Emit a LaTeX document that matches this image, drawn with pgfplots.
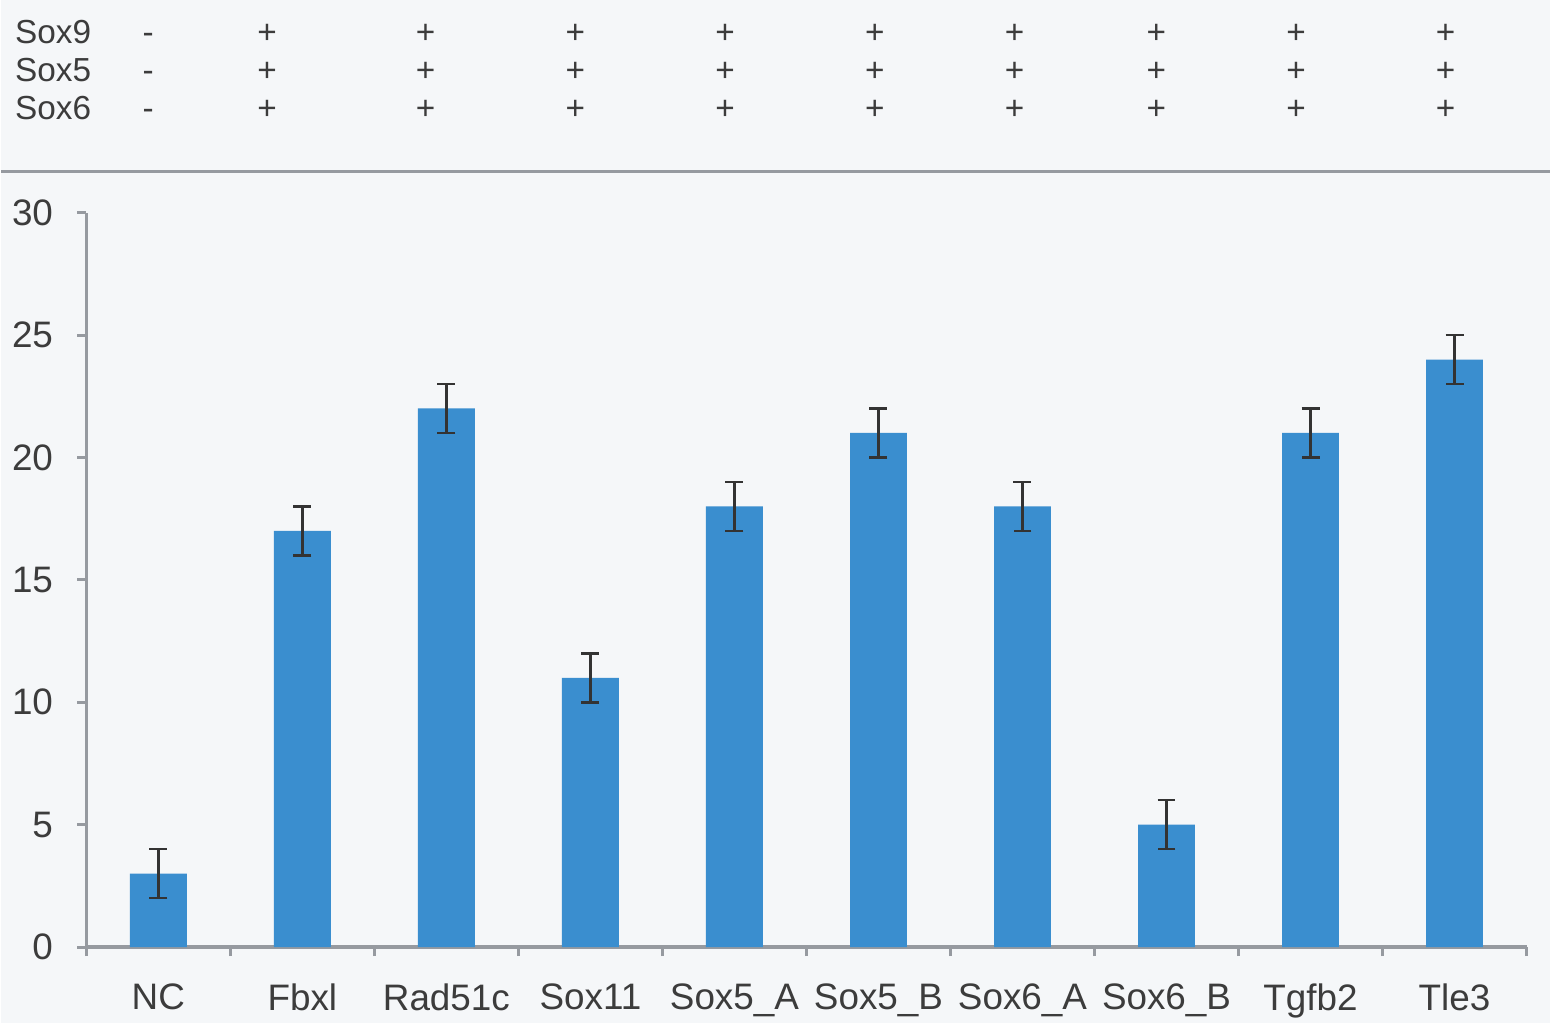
\documentclass[border=0pt]{standalone}
\usepackage{pgfplots}
\pgfplotsset{compat=1.18}
\usepackage{fontspec}
\setmainfont{Liberation Sans}
\definecolor{barblue}{RGB}{58,142,207}
\definecolor{bg}{RGB}{245,247,249}
\definecolor{txt}{RGB}{60,60,60}
\definecolor{axgray}{RGB}{150,154,160}
\begin{document}
\begin{tikzpicture}[x=1mm,y=1mm]
\fill[bg] (0,0) rectangle (155.1,102.5);
% header rows
\begin{scope}[every node/.style={text=txt,font=\fontsize{9.5}{11}\selectfont,inner sep=0pt}]
\foreach \yy/\lab in {98.1/Sox9, 94.3/Sox5, 90.5/Sox6}{
  \node[anchor=base west] at (1.3,\yy) {\lab};
  \node[anchor=base] at (14.7,\yy) {-};
  \foreach \xx in {26.6,42.5,57.5,72.5,87.5,101.5,115.7,129.7,144.7}{
    \node[anchor=base] at (\xx,\yy) {+};
  }
}
\end{scope}
\draw[axgray,line width=0.3mm] (0,85.3) -- (155.1,85.3);
\begin{axis}[
  at={(8.5mm,7.6mm)}, anchor=south west,
  scale only axis, width=144.3mm, height=73.6mm,
  xmin=-0.5, xmax=9.5, ymin=0, ymax=30,
  axis x line*=bottom, axis y line*=left,
  axis line style={axgray, line width=0.35mm},
  every tick/.style={axgray, line width=0.3mm},
  tick align=outside,
  xtick={0,...,9},
  xticklabels={NC,Fbxl,Rad51c,Sox11,Sox5\_A,Sox5\_B,Sox6\_A,Sox6\_B,Tgfb2,Tle3},
  major x tick style={draw=none},
  minor xtick={-0.5,0.5,...,9.5},
  minor tick length=0.9mm,
  ytick={0,5,...,30},
  major tick length=0.9mm,
  ticklabel style={text=txt, font=\fontsize{10.5}{12}\selectfont},
  /pgf/number format/assume math mode=true,
  xticklabel style={yshift=-1.5mm},
  yticklabel style={xshift=-1.2mm},
  clip=false,
]
\addplot[ybar, bar width=5.7mm, fill=barblue, draw=none,
  error bars/.cd, y dir=both, y explicit,
  error bar style={black!80, line width=0.25mm},
  error mark options={rotate=90, mark size=0.9mm, black!80, line width=0.25mm}]
  table[x=x, y=y, y error=e] {
x y e
0 3 1
1 17 1
2 22 1
3 11 1
4 18 1
5 21 1
6 18 1
7 5 1
8 21 1
9 24 1
};
\end{axis}
\end{tikzpicture}
\end{document}
